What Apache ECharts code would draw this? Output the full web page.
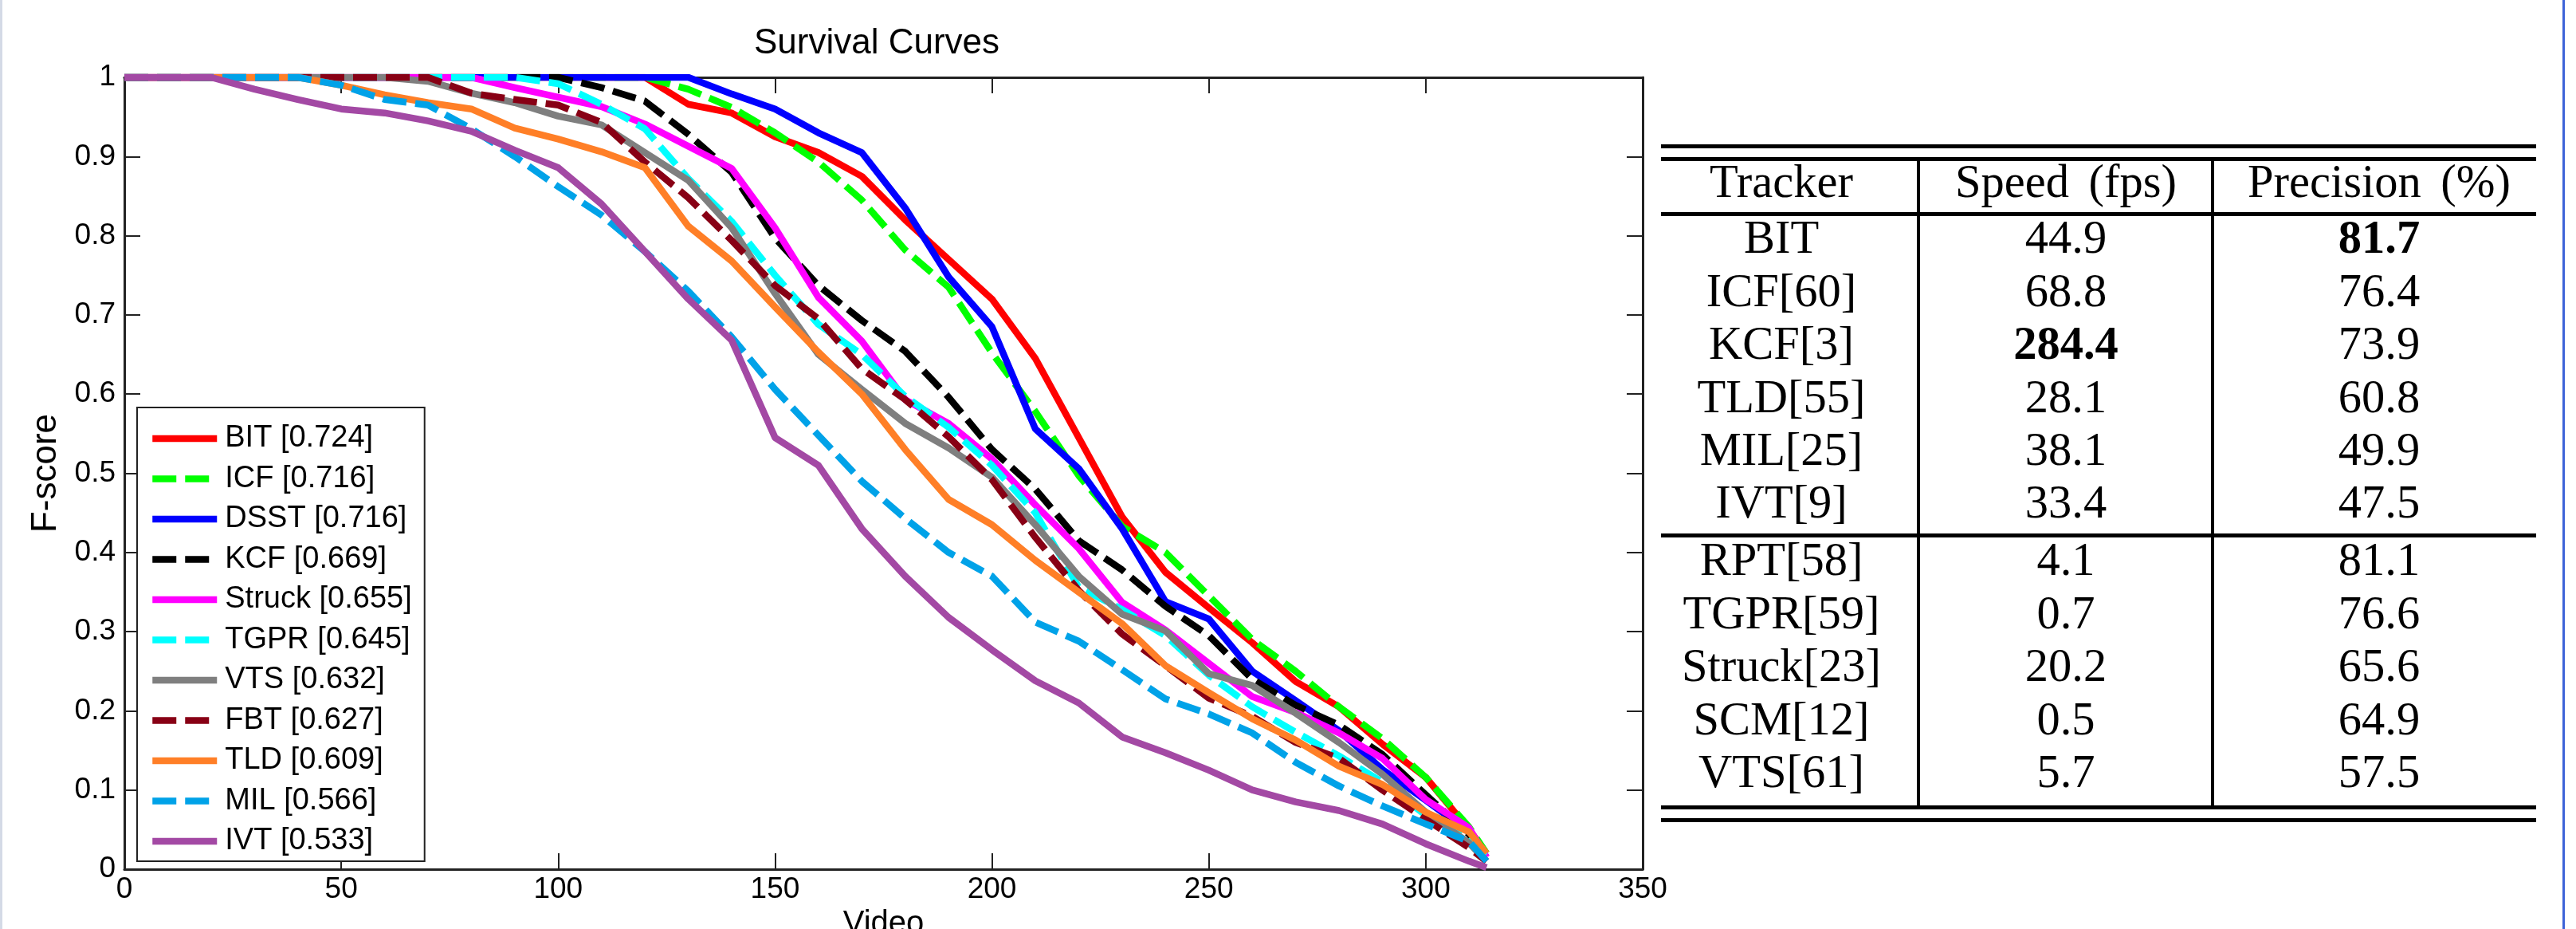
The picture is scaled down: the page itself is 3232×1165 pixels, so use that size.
<!DOCTYPE html>
<html>
<head>
<meta charset="utf-8">
<script src="https://cdn.jsdelivr.net/npm/echarts@6/dist/echarts.min.js"></script>
<style>
html, body { margin: 0; padding: 0; background: #fff; }
#wrap { position: relative; width: 3232px; height: 1165px; overflow: hidden; background: #fff; }
#chart { position: absolute; left: 0; top: 0; width: 3232px; height: 1165px; }
.rule { position: absolute; background: #000; }
.cell { position: absolute; font-family: "Liberation Serif", "Times New Roman", serif; font-size: 58.5px; line-height: 58px; text-align: center; color: #000; white-space: nowrap; width: 500px; }
.head { word-spacing: 10px; }
</style>
</head>
<body>
<div id="wrap">
  <div id="chart"></div>
  <div id="table"></div>
</div>
<script>
// ---------------- data ----------------
const videoIdx = [0,10,20,30,40,50,60,70,80,90,100,110,120,130,140,150,160,170,180,190,200,210,220,230,240,250,260,270,280,290,300,310,314];

const trackers = ['BIT','ICF','DSST','KCF','Struck','TGPR','VTS','FBT','TLD','MIL','IVT'];
const aucScores = ['0.724','0.716','0.716','0.669','0.655','0.645','0.632','0.627','0.609','0.566','0.533'];

const fBIT    = [1,1,1,1,1,1,1,1,1,1,1,1,1,0.966,0.955,0.925,0.905,0.875,0.82,0.77,0.72,0.645,0.545,0.445,0.375,0.33,0.286,0.237,0.205,0.158,0.116,0.05,0.02];
const fICF    = [1,1,1,1,1,1,1,1,1,1,1,1,1,0.985,0.962,0.93,0.893,0.845,0.782,0.735,0.652,0.578,0.497,0.433,0.4,0.345,0.29,0.25,0.205,0.165,0.116,0.053,0.02];
const fDSST   = [1,1,1,1,1,1,1,1,1,1,1,1,1,1,0.979,0.96,0.93,0.905,0.835,0.748,0.685,0.556,0.506,0.43,0.338,0.316,0.25,0.213,0.175,0.126,0.087,0.047,0.015];
const fKCF    = [1,1,1,1,1,1,1,1,1,1,1,0.987,0.97,0.928,0.88,0.797,0.737,0.693,0.654,0.596,0.53,0.48,0.415,0.378,0.332,0.295,0.24,0.207,0.182,0.145,0.094,0.044,0.015];
const fStruck = [1,1,1,1,1,1,1,1,1,0.987,0.975,0.963,0.941,0.913,0.885,0.81,0.722,0.667,0.593,0.563,0.518,0.46,0.405,0.337,0.302,0.26,0.218,0.198,0.172,0.14,0.088,0.052,0.015];
const fTGPR   = [1,1,1,1,1,1,1,1,1,1,0.992,0.966,0.935,0.872,0.818,0.75,0.688,0.65,0.597,0.558,0.51,0.45,0.356,0.328,0.295,0.245,0.205,0.173,0.143,0.11,0.068,0.04,0.015];
const fVTS    = [1,1,1,1,1,1,1,0.995,0.98,0.968,0.951,0.94,0.905,0.87,0.81,0.727,0.65,0.606,0.563,0.532,0.495,0.435,0.37,0.322,0.301,0.247,0.232,0.197,0.16,0.12,0.072,0.033,0.01];
const fFBT    = [1,1,1,1,1,1,1,1,0.98,0.972,0.965,0.943,0.893,0.848,0.794,0.737,0.695,0.632,0.593,0.546,0.492,0.419,0.352,0.297,0.257,0.216,0.193,0.16,0.14,0.1,0.063,0.027,0.01];
const fTLD    = [1,1,1,1,1,0.99,0.978,0.968,0.96,0.936,0.922,0.906,0.886,0.812,0.768,0.71,0.653,0.6,0.53,0.467,0.435,0.39,0.35,0.31,0.257,0.223,0.19,0.163,0.13,0.107,0.072,0.047,0.02];
const fMIL    = [1,1,1,1,1,0.99,0.972,0.965,0.935,0.9,0.862,0.826,0.78,0.73,0.672,0.606,0.548,0.49,0.443,0.4,0.37,0.312,0.288,0.252,0.215,0.196,0.172,0.135,0.105,0.08,0.057,0.035,0.01];
const fIVT    = [1,1,1,0.985,0.972,0.96,0.955,0.945,0.932,0.908,0.886,0.84,0.78,0.72,0.668,0.545,0.51,0.43,0.37,0.318,0.277,0.238,0.21,0.167,0.147,0.125,0.1,0.085,0.074,0.057,0.032,0.01,0.002];

const xTicks = [0,50,100,150,200,250,300,350];
const yTicks = [0,0.1,0.2,0.3,0.4,0.5,0.6,0.7,0.8,0.9,1];

// table data
const tableHeader = ['Tracker','Speed (fps)','Precision (%)'];
const tableTrackers = ['BIT','ICF[60]','KCF[3]','TLD[55]','MIL[25]','IVT[9]','RPT[58]','TGPR[59]','Struck[23]','SCM[12]','VTS[61]'];
const tableSpeed = ['44.9','68.8','284.4','28.1','38.1','33.4','4.1','0.7','20.2','0.5','5.7'];
const tablePrecision = ['81.7','76.4','73.9','60.8','49.9','47.5','81.1','76.6','65.6','64.9','57.5'];
const firstGroupSize = 6;

// ---------------- styles ----------------
const seriesValues = [fBIT,fICF,fDSST,fKCF,fStruck,fTGPR,fVTS,fFBT,fTLD,fMIL,fIVT];
const colors = ['#ff0000','#00ff00','#0000ff','#000000','#ff00ff','#00ffff','#7f7f7f','#880015','#ff7f27','#00a2e8','#a349a4'];
const dashed = [false,true,false,true,false,true,false,true,false,true,false];
const DASH = [30, 11];

const series = trackers.map((t, i) => ({
  name: t + ' [' + aucScores[i] + ']',
  type: 'line',
  xAxisIndex: 0,
  yAxisIndex: 0,
  showSymbol: false,
  symbol: 'none',
  silent: true,
  data: videoIdx.map((x, k) => [x, seriesValues[i][k]]),
  lineStyle: { color: colors[i], width: 8.5, type: dashed[i] ? DASH : 'solid', cap: 'butt', join: 'round' },
  itemStyle: { color: colors[i] }
}));

const axisCol = '#222';
const SANS = '"Liberation Sans", Arial, sans-serif';
const tickFont = { fontFamily: SANS, fontSize: 37, color: '#000' };
const GL = 156, GT = 97, GW = 1905, GH = 993;

const chart = echarts.init(document.getElementById('chart'), null, { renderer: 'canvas' });
chart.setOption({
  animation: false,
  backgroundColor: '#fff',
  grid: { left: GL, top: GT, width: GW, height: GH, containLabel: false, outerBoundsMode: 'none' },
  xAxis: [
    {
      type: 'value', min: 0, max: 350, interval: 50, position: 'bottom',
      name: 'Video', nameLocation: 'middle', nameGap: 48,
      nameTextStyle: { fontFamily: SANS, fontSize: 40, color: '#000' },
      axisLine: { show: true, onZero: false, lineStyle: { color: axisCol, width: 3 } },
      axisTick: { show: true, inside: true, length: 20, lineStyle: { color: axisCol, width: 2 } },
      axisLabel: Object.assign({ margin: 7, formatter: v => xTicks.includes(v) ? String(v) : '' }, tickFont),
      splitLine: { show: false }
    },
    {
      type: 'value', min: 0, max: 350, interval: 50, position: 'top',
      axisLine: { show: true, onZero: false, lineStyle: { color: axisCol, width: 3 } },
      axisTick: { show: true, inside: true, length: 20, lineStyle: { color: axisCol, width: 2 } },
      axisLabel: { show: false }, splitLine: { show: false }
    }
  ],
  yAxis: [
    {
      type: 'value', min: 0, max: 1, interval: 0.1, position: 'left',
      name: 'F-score', nameLocation: 'middle', nameGap: 76, nameRotate: 90,
      nameTextStyle: { fontFamily: SANS, fontSize: 44, color: '#000' },
      axisLine: { show: true, onZero: false, lineStyle: { color: axisCol, width: 3 } },
      axisTick: { show: true, inside: true, length: 20, lineStyle: { color: axisCol, width: 2 } },
      axisLabel: Object.assign({ margin: 11, formatter: v => {
        const m = yTicks.find(t => Math.abs(t - v) < 1e-6);
        return m === undefined ? '' : String(m);
      } }, tickFont),
      splitLine: { show: false }
    },
    {
      type: 'value', min: 0, max: 1, interval: 0.1, position: 'right',
      axisLine: { show: true, onZero: false, lineStyle: { color: axisCol, width: 3 } },
      axisTick: { show: true, inside: true, length: 20, lineStyle: { color: axisCol, width: 2 } },
      axisLabel: { show: false }, splitLine: { show: false }
    }
  ],
  legend: {
    orient: 'vertical',
    left: 172, top: 511,
    selectedMode: false,
    backgroundColor: '#fff',
    borderColor: '#222', borderWidth: 2,
    padding: [19, 16, 5, 15],
    itemWidth: 81, itemHeight: 40, itemGap: 10.5,
    lineStyle: { width: 8.5 },
    itemStyle: { opacity: 0 },
    textStyle: { fontFamily: SANS, fontSize: 38, color: '#000', lineHeight: 40, padding: [0, 0, 0, 5] },
    data: series.map(s => s.name)
  },
  graphic: [
    { type: 'text', x: 1100, y: 55, style: { text: 'Survival Curves', fontFamily: SANS, fontSize: 44, fill: '#000', align: 'center', verticalAlign: 'middle' } }
  ],
  series: series
});

// ---------------- table ----------------
const tbl = document.getElementById('table');
const X0 = 2084, X1 = 3182;
const colSep = [2407, 2776];
const colCenter = [2235, 2592, 2985];
function rule(x, y, w, h) {
  const d = document.createElement('div');
  d.className = 'rule';
  d.style.left = x + 'px'; d.style.top = y + 'px'; d.style.width = w + 'px'; d.style.height = h + 'px';
  tbl.appendChild(d);
}
function cell(text, cx, baseline, bold, head) {
  const d = document.createElement('div');
  d.className = head ? 'cell head' : 'cell';
  d.textContent = text;
  d.style.left = (cx - 250) + 'px';
  d.style.top = (baseline - 48.6) + 'px';
  if (bold) d.style.fontWeight = 'bold';
  tbl.appendChild(d);
}
// horizontal rules
rule(X0, 181, X1 - X0, 5);
rule(X0, 197, X1 - X0, 5);
rule(X0, 266, X1 - X0, 5);
rule(X0, 669, X1 - X0, 5);
rule(X0, 1010, X1 - X0, 5);
rule(X0, 1026, X1 - X0, 5);
// vertical rules
colSep.forEach(x => rule(x - 2, 200, 4, 812));

// header
tableHeader.forEach((h, j) => cell(h, colCenter[j], 248, false, true));
const maxSpeed = Math.max(...tableSpeed.map(Number));
const maxPrec = Math.max(...tablePrecision.map(Number));
tableTrackers.forEach((t, i) => {
  const base = i < firstGroupSize ? 318 + i * 66.4 : 722 + (i - firstGroupSize) * 66.5;
  cell(t, colCenter[0], base, false, false);
  cell(tableSpeed[i], colCenter[1], base, Number(tableSpeed[i]) === maxSpeed, false);
  cell(tablePrecision[i], colCenter[2], base, Number(tablePrecision[i]) === maxPrec, false);
});

// window borders seen in the capture
const lb = document.createElement('div');
lb.style.cssText = 'position:absolute;left:0;top:0;width:3px;height:1165px;background:#d4dae6;';
document.getElementById('wrap').appendChild(lb);
const rb = document.createElement('div');
rb.style.cssText = 'position:absolute;left:3215px;top:0;width:3px;height:1165px;background:#3d63d8;';
document.getElementById('wrap').appendChild(rb);
</script>
</body>
</html>
